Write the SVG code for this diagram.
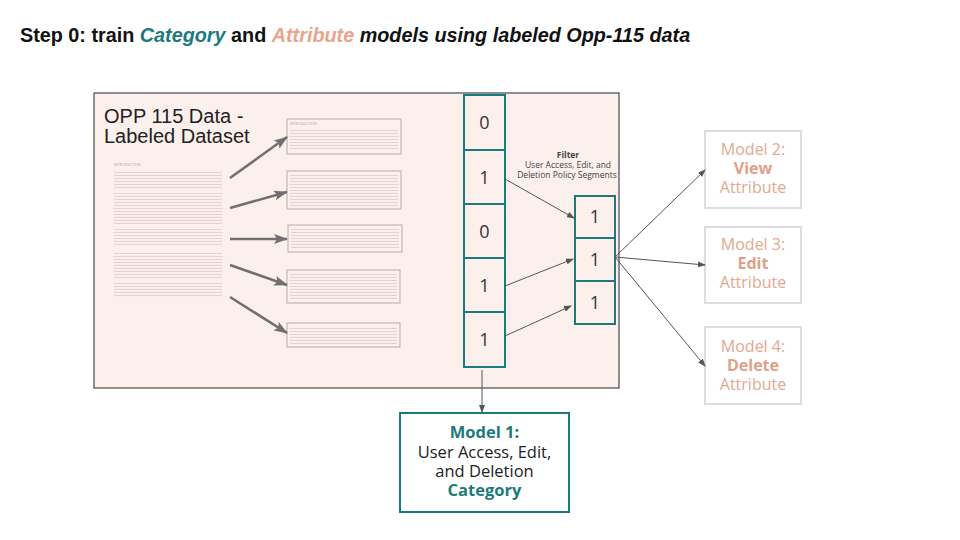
<svg xmlns="http://www.w3.org/2000/svg" width="960" height="540" viewBox="0 0 960 540">
<defs>
<style>
.title{font-family:"Liberation Sans",Arial,sans-serif;font-size:19.8px;font-weight:bold;fill:#111}
.ds{font-family:"Liberation Sans",Arial,sans-serif;font-size:20px;fill:#222}
.dig{font-family:"Open Sans",sans-serif;font-size:18px;fill:#333;text-anchor:middle}
.cell{fill:none;stroke:#1d7a7c;stroke-width:2}
.flt{font-family:"Open Sans",sans-serif;font-size:8.5px;fill:#444;text-anchor:middle}
.mt{font-family:"Open Sans",sans-serif;font-size:16px;fill:#e3a891;text-anchor:middle}
.m1{font-family:"Open Sans",sans-serif;font-size:16.5px;fill:#222;text-anchor:middle}
.tb{font-weight:bold;fill:#1d7a7c}
.ab{font-weight:bold;fill:#e0a088}
.mbox{fill:#fff;stroke:#dedede;stroke-width:2}
.snip{fill:none;stroke:#bba9a9;stroke-width:1}
.thin{stroke:#555;stroke-width:1;fill:none}
.thick{stroke:#707070;stroke-width:2.6;fill:none}
.hd{font-family:"Liberation Sans",Arial,sans-serif;font-size:3.5px;fill:#b8a0a0}
</style>
<pattern id="lines" width="6" height="3" patternUnits="userSpaceOnUse">
<rect x="0" y="0.9" width="6" height="1.1" fill="#e6d2d2"/>
</pattern>
<marker id="ah" markerWidth="8" markerHeight="6" refX="7" refY="3" orient="auto" markerUnits="userSpaceOnUse">
<path d="M0,0 L8,3 L0,6 Z" fill="#555"/>
</marker>
<marker id="ahb" markerWidth="14" markerHeight="10" refX="13" refY="5" orient="auto" markerUnits="userSpaceOnUse">
<path d="M0,0 L14,5 L0,10 L3,5 Z" fill="#707070"/>
</marker>
</defs>
<rect width="960" height="540" fill="#fff"/>

<text class="title" x="20" y="42">Step 0: train <tspan fill="#1d7a7c" font-style="italic">Category</tspan> and <tspan fill="#e8a58e" font-style="italic">Attribute</tspan><tspan font-style="italic"> models using labeled Opp-115 data</tspan></text>

<g id="dataset">
<rect x="94" y="93" width="525" height="295" fill="#fcf0ed" stroke="#555" stroke-width="1.3"/>
<text class="ds" x="104" y="123">OPP 115 Data -</text>
<text class="ds" x="104" y="143">Labeled Dataset</text>
<g id="source-doc">
<text class="hd" x="114" y="166">INTRODUCTION</text>
<rect x="114" y="170" width="108" height="19" fill="url(#lines)"/>
<rect x="114" y="193" width="108" height="31" fill="url(#lines)"/>
<rect x="114" y="229" width="108" height="18" fill="url(#lines)"/>
<rect x="114" y="252" width="108" height="27" fill="url(#lines)"/>
<rect x="114" y="283" width="108" height="15" fill="url(#lines)"/>
</g>
<g id="snippet-1">
<rect class="snip" x="287" y="119" width="114" height="35"/>
<text class="hd" x="290" y="125">INTRODUCTION</text>
<rect x="290" y="128" width="108" height="22" fill="url(#lines)"/>
</g>
<g id="snippet-2">
<rect class="snip" x="287" y="171" width="114" height="38"/>
<rect x="290" y="174" width="108" height="32" fill="url(#lines)"/>
</g>
<g id="snippet-3">
<rect class="snip" x="288" y="225" width="114" height="27"/>
<rect x="291" y="228" width="108" height="21" fill="url(#lines)"/>
</g>
<g id="snippet-4">
<rect class="snip" x="287" y="270" width="113" height="33"/>
<rect x="290" y="273" width="107" height="27" fill="url(#lines)"/>
</g>
<g id="snippet-5">
<rect class="snip" x="287" y="323" width="113" height="24"/>
<rect x="290" y="326" width="107" height="18" fill="url(#lines)"/>
</g>
</g>

<g id="labels-column">
<rect class="cell" x="464" y="95" width="41" height="55"/>
<text class="dig" x="484.5" y="129">0</text>
<rect class="cell" x="464" y="150" width="41" height="54"/>
<text class="dig" x="484.5" y="184">1</text>
<rect class="cell" x="464" y="204" width="41" height="54"/>
<text class="dig" x="484.5" y="238">0</text>
<rect class="cell" x="464" y="258" width="41" height="54"/>
<text class="dig" x="484.5" y="292">1</text>
<rect class="cell" x="464" y="312" width="41" height="55"/>
<text class="dig" x="484.5" y="346">1</text>
</g>

<g id="filter-label">
<text class="flt" x="568" y="158" font-weight="bold" fill="#222">Filter</text>
<text class="flt" x="568" y="168">User Access, Edit, and</text>
<text class="flt" x="567" y="178">Deletion Policy Segments</text>
</g>

<g id="filtered-column">
<rect class="cell" x="575" y="196" width="40" height="42"/>
<text class="dig" x="595" y="223">1</text>
<rect class="cell" x="575" y="238" width="40" height="43"/>
<text class="dig" x="595" y="266">1</text>
<rect class="cell" x="575" y="281" width="40" height="43"/>
<text class="dig" x="595" y="309">1</text>
</g>

<g id="model-1">
<rect x="400" y="413" width="169" height="99" fill="#fff" stroke="#1d7a7c" stroke-width="2"/>
<text class="m1" x="484.5" y="438"><tspan class="tb">Model 1:</tspan></text>
<text class="m1" x="484.5" y="458">User Access, Edit,</text>
<text class="m1" x="484.5" y="477">and Deletion</text>
<text class="m1" x="484.5" y="496"><tspan class="tb">Category</tspan></text>
</g>

<g id="model-2">
<rect class="mbox" x="705" y="131" width="96" height="77"/>
<text class="mt" x="753" y="155">Model 2:</text>
<text class="mt ab" x="753" y="174">View</text>
<text class="mt" x="753" y="193">Attribute</text>
</g>
<g id="model-3">
<rect class="mbox" x="705" y="227" width="96" height="76"/>
<text class="mt" x="753" y="250">Model 3:</text>
<text class="mt ab" x="753" y="269">Edit</text>
<text class="mt" x="753" y="288">Attribute</text>
</g>
<g id="model-4">
<rect class="mbox" x="705" y="327" width="96" height="77"/>
<text class="mt" x="753" y="352">Model 4:</text>
<text class="mt ab" x="753" y="371">Delete</text>
<text class="mt" x="753" y="390">Attribute</text>
</g>

<g id="connectors">
<line class="thick" x1="230" y1="178" x2="287" y2="137" marker-end="url(#ahb)"/>
<line class="thick" x1="230" y1="208" x2="287" y2="192" marker-end="url(#ahb)"/>
<line class="thick" x1="230" y1="239" x2="287" y2="239" marker-end="url(#ahb)"/>
<line class="thick" x1="230" y1="265" x2="287" y2="285" marker-end="url(#ahb)"/>
<line class="thick" x1="230" y1="297" x2="287" y2="333" marker-end="url(#ahb)"/>
<line class="thin" x1="505" y1="179" x2="574" y2="218" marker-end="url(#ah)"/>
<line class="thin" x1="505" y1="286" x2="573" y2="259" marker-end="url(#ah)"/>
<line class="thin" x1="505" y1="336" x2="571" y2="306" marker-end="url(#ah)"/>
<line class="thin" x1="615" y1="257" x2="705" y2="170" marker-end="url(#ah)"/>
<line class="thin" x1="615" y1="257" x2="705" y2="265" marker-end="url(#ah)"/>
<line class="thin" x1="615" y1="257" x2="705" y2="366" marker-end="url(#ah)"/>
<line class="thin" x1="482" y1="370" x2="482" y2="412" marker-end="url(#ah)"/>
</g>
</svg>
